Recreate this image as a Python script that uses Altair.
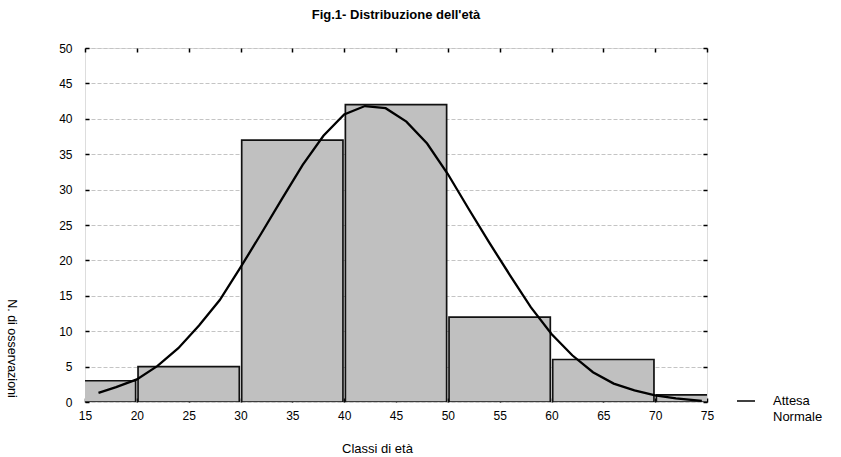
import altair as alt
import pandas as pd

# Age classes (class width 10) and observed counts
class_start = [10, 20, 30, 40, 50, 60, 70]
class_end = [20, 30, 40, 50, 60, 70, 80]
counts = [3, 5, 37, 42, 12, 6, 1]

# Expected normal curve (number of observations per class)
curve_age = [16.3, 18, 20, 22, 24, 26, 28, 30, 32, 34, 36, 38, 40, 42, 44,
             46, 48, 50, 52, 54, 56, 58, 60, 62, 64, 66, 68, 70, 72, 74.5]
curve_n = [1.3, 2.1, 3.2, 5.1, 7.6, 10.8, 14.4, 19.0, 23.8, 28.7, 33.5, 37.6,
           40.6, 41.8, 41.5, 39.6, 36.5, 32.2, 27.3, 22.5, 17.9, 13.4, 9.6,
           6.6, 4.2, 2.6, 1.65, 0.95, 0.5, 0.15]

legend_lines = ["Attesa", "Normale"]

FONT = "Liberation Sans"
W, H = 622, 354

bars_df = pd.DataFrame({"start": class_start, "end": class_end, "n": counts})
curve_df = pd.DataFrame({"age": curve_age, "n": curve_n})

x_scale = alt.Scale(domain=[15, 75], nice=False, zero=False)
y_scale = alt.Scale(domain=[0, 50], nice=False)

x_bottom = alt.Axis(
    orient="bottom", values=list(range(15, 80, 5)), domain=False,
    offset=-4, tickSize=4, tickColor="black", tickWidth=1.5,
    labelFont=FONT, labelFontSize=12, labelColor="black", labelPadding=8,
    labelFlush=False,
    grid=False, title="Classi di età", titleFont=FONT, titleFontSize=13,
    titleFontWeight="normal", titleColor="black", titleX=292, titleY=50,
    titleAlign="center", titleBaseline="middle",
)
y_left = alt.Axis(
    orient="left", values=list(range(0, 55, 5)), domain=False,
    offset=-4, tickSize=4, tickColor="black", tickWidth=1.5,
    labelFont=FONT, labelFontSize=12, labelColor="black", labelPadding=13,
    labelFlush=False,
    grid=True, gridColor="#c4c4c4", gridDash=[4, 2], gridWidth=1,
    title="N. di osservazioni", titleFont=FONT, titleFontSize=12.5,
    titleFontWeight="normal", titleColor="black", titleAngle=90,
    titleX=-82, titleY=300, titleAlign="center", titleBaseline="alphabetic",
)
x_top = alt.Axis(
    orient="top", values=list(range(15, 80, 5)), domain=False, labels=False,
    offset=-4, tickSize=4, tickColor="black", tickWidth=1.5, grid=False,
    title=None,
)
y_right = alt.Axis(
    orient="right", values=list(range(0, 55, 5)), domain=False, labels=False,
    offset=-4, tickSize=4, tickColor="black", tickWidth=1.5, grid=False,
    title=None,
)

bars = alt.Chart(bars_df).mark_rect(
    fill="#c0c0c0", stroke="#111111", strokeWidth=1.7,
    xOffset=1.2, x2Offset=-1.2, clip=True,
).encode(
    x=alt.X("start:Q", scale=x_scale, axis=x_bottom),
    x2="end:Q",
    y=alt.Y("n:Q", scale=y_scale, axis=y_left),
    y2=alt.datum(0),
)

curve = alt.Chart(curve_df).mark_line(
    color="black", strokeWidth=2.3, clip=True,
).encode(
    x=alt.X("age:Q", scale=x_scale, axis=x_top),
    y=alt.Y("n:Q", scale=y_scale, axis=y_right),
)

# Legend for the expected curve, placed to the right of the plot
legend_line = alt.Chart(pd.DataFrame({"k": [0]})).mark_rule(
    color="black", strokeWidth=1.5,
).encode(
    x=alt.value(652), x2=alt.value(670), y=alt.value(353),
)
legend_text = alt.Chart(pd.DataFrame({"k": [0]})).mark_text(
    font=FONT, fontSize=13, color="black", align="left", baseline="middle",
    lineBreak="\n", lineHeight=15.5,
).encode(
    x=alt.value(688), y=alt.value(353),
    text=alt.value("\n".join(legend_lines)),
)

chart = alt.layer(bars, curve, legend_line, legend_text).resolve_axis(
    x="independent", y="independent"
).properties(
    width=W, height=H,
    title=alt.TitleParams(
        "Fig.1- Distribuzione dell'età", font=FONT, fontSize=13,
        fontWeight="bold", color="black", anchor="middle", offset=20,
    ),
    autosize=alt.AutoSizeParams(type="none"),
    padding={"left": 85, "top": 48, "right": 134, "bottom": 55},
).configure_view(
    stroke="black", strokeWidth=2,
).configure(background="white")

chart.save("out.html", embed_options={"renderer": "svg", "actions": False})
